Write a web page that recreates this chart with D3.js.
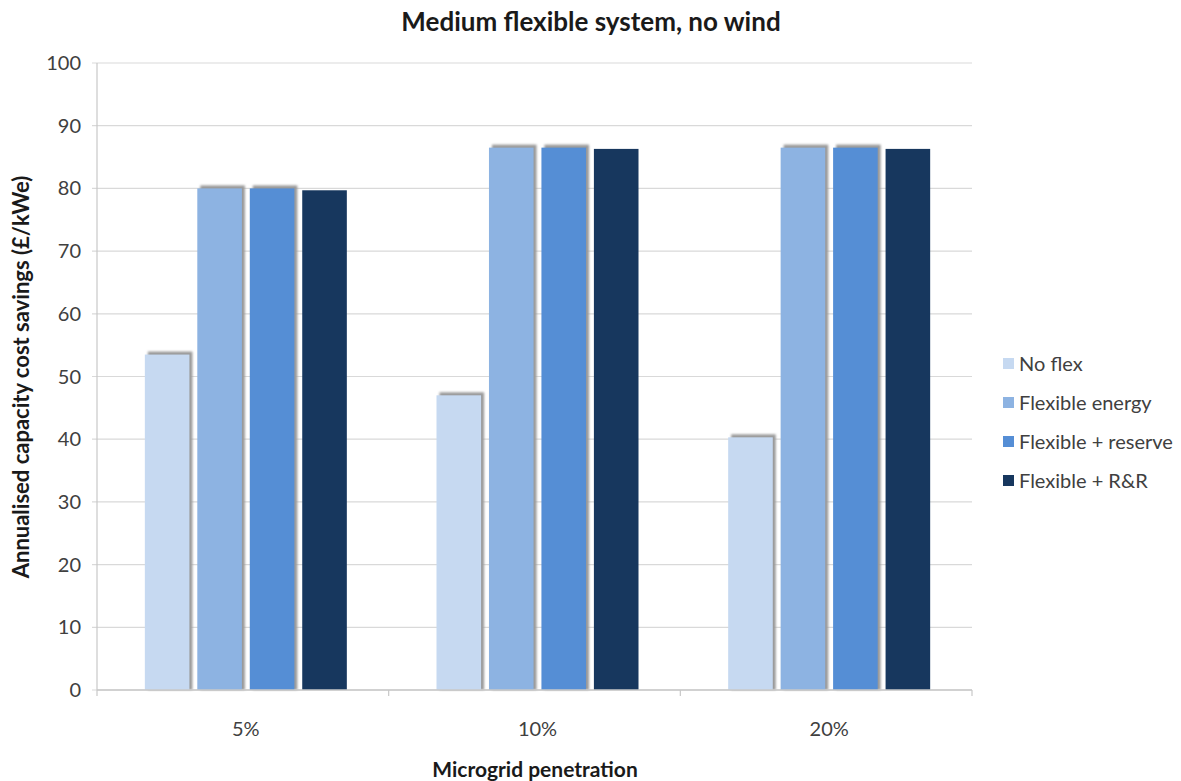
<!DOCTYPE html>
<html>
<head>
<meta charset="utf-8">
<script src="https://cdn.jsdelivr.net/npm/d3@7/dist/d3.min.js"></script>
<style>
  html, body { margin: 0; padding: 0; background: #fff; }
  svg { display: block; font-family: Lato, "Open Sans", "DejaVu Sans", sans-serif; }
</style>
</head>
<body>
<svg id="chart" width="1181" height="781"></svg>
<script>
// Data
const categories = ["5%", "10%", "20%"];
const seriesNames = ["No flex", "Flexible energy", "Flexible + reserve", "Flexible + R&R"];
const noFlex = [53.5, 47, 40.3];
const flexibleEnergy = [80, 86.5, 86.5];
const flexibleReserve = [80, 86.5, 86.5];
const flexibleRR = [79.7, 86.3, 86.3];
const yTicks = [0, 10, 20, 30, 40, 50, 60, 70, 80, 90, 100];

const seriesValues = [noFlex, flexibleEnergy, flexibleReserve, flexibleRR];
const colors = ["#C6D9F1", "#8DB3E2", "#558ED5", "#17375E"];
const hasShadow = [true, true, true, false];

const svg = d3.select("#chart");
const margin = { left: 97, right: 209, top: 63, bottom: 91 };
const W = 1181, H = 781;
const plotW = W - margin.left - margin.right;
const plotH = H - margin.top - margin.bottom;

const g = svg.append("g").attr("transform", `translate(${margin.left},${margin.top})`);

const x0 = d3.scaleBand().domain(categories).range([0, plotW]).paddingInner(0).paddingOuter(0);
const groupW = 202;
const x1 = d3.scaleBand().domain(seriesNames).range([0, groupW]).paddingInner(0.15).paddingOuter(0);
const groupOffset = (x0.bandwidth() - groupW) / 2 + 3;
const y = d3.scaleLinear().domain([0, 100]).range([plotH, 0]);

// Gridlines
g.append("g")
  .selectAll("line")
  .data(yTicks)
  .join("line")
  .attr("x1", -5).attr("x2", plotW)
  .attr("y1", d => y(d)).attr("y2", d => y(d))
  .attr("stroke", "#d9d9d9").attr("stroke-width", 1.2);

// Y axis line
g.append("line")
  .attr("x1", 0).attr("x2", 0).attr("y1", 0).attr("y2", plotH)
  .attr("stroke", "#c8c8c8").attr("stroke-width", 1.2);

// Y tick labels
g.append("g")
  .selectAll("text")
  .data(yTicks)
  .join("text")
  .attr("x", -16).attr("y", d => y(d))
  .attr("dy", "0.35em")
  .attr("text-anchor", "end")
  .attr("font-size", 20)
  .attr("fill", "#404040")
  .text(d => d);

// Bars with a soft grey shadow offset up and to the right
const defs = svg.append("defs");
defs.append("filter").attr("id", "soft")
  .attr("x", "-20%").attr("y", "-20%").attr("width", "140%").attr("height", "140%")
  .append("feGaussianBlur").attr("stdDeviation", 1);

categories.forEach((cat, ci) => {
  const gx = x0(cat) + groupOffset;
  seriesNames.forEach((name, si) => {
    const v = seriesValues[si][ci];
    const bx = gx + x1(name);
    const bw = x1.bandwidth();
    if (hasShadow[si]) {
      g.append("rect")
        .attr("x", bx + 3).attr("y", y(v) - 3)
        .attr("width", bw).attr("height", plotH - y(v) + 3)
        .attr("fill", "#9a9a9a")
        .attr("filter", "url(#soft)");
    }
    g.append("rect")
      .attr("x", bx).attr("y", y(v))
      .attr("width", bw).attr("height", plotH - y(v))
      .attr("fill", colors[si]);
  });
});

// X axis baseline and ticks between categories
g.append("line")
  .attr("x1", 0).attr("x2", plotW).attr("y1", plotH).attr("y2", plotH)
  .attr("stroke", "#c8c8c8").attr("stroke-width", 1.5);
const boundaries = [0, ...categories.map(c => x0(c) + x0.bandwidth())];
g.append("g").selectAll("line")
  .data(boundaries)
  .join("line")
  .attr("x1", d => d).attr("x2", d => d)
  .attr("y1", plotH).attr("y2", plotH + 6)
  .attr("stroke", "#c8c8c8").attr("stroke-width", 1.2);

// X tick labels
g.append("g").selectAll("text")
  .data(categories)
  .join("text")
  .attr("x", d => x0(d) + x0.bandwidth() / 2 + 3)
  .attr("y", plotH + 46)
  .attr("text-anchor", "middle")
  .attr("font-size", 20)
  .attr("fill", "#404040")
  .text(d => d);

// Title
svg.append("text")
  .attr("x", 591).attr("y", 31)
  .attr("text-anchor", "middle")
  .attr("font-size", 26).attr("font-weight", "bold")
  .attr("fill", "#1a1a1a")
  .text("Medium flexible system, no wind");

// Axis titles
svg.append("text")
  .attr("x", 535).attr("y", 777)
  .attr("text-anchor", "middle")
  .attr("font-size", 21).attr("font-weight", "bold")
  .attr("fill", "#1a1a1a")
  .text("Microgrid penetration");

svg.append("text")
  .attr("transform", "translate(29,377) rotate(-90)")
  .attr("text-anchor", "middle")
  .attr("font-size", 22).attr("font-weight", "bold")
  .attr("fill", "#1a1a1a")
  .text("Annualised capacity cost savings (£/kWe)");

// Legend
const legend = svg.append("g").attr("transform", "translate(1003,364)");
seriesNames.forEach((name, i) => {
  const row = legend.append("g").attr("transform", `translate(0,${i * 39})`);
  row.append("rect").attr("x", 0).attr("y", -6).attr("width", 11).attr("height", 11).attr("fill", colors[i]);
  row.append("text").attr("x", 16).attr("y", 0).attr("dy", "0.35em")
    .attr("font-size", 20).attr("fill", "#404040").text(name);
});
</script>
</body>
</html>
